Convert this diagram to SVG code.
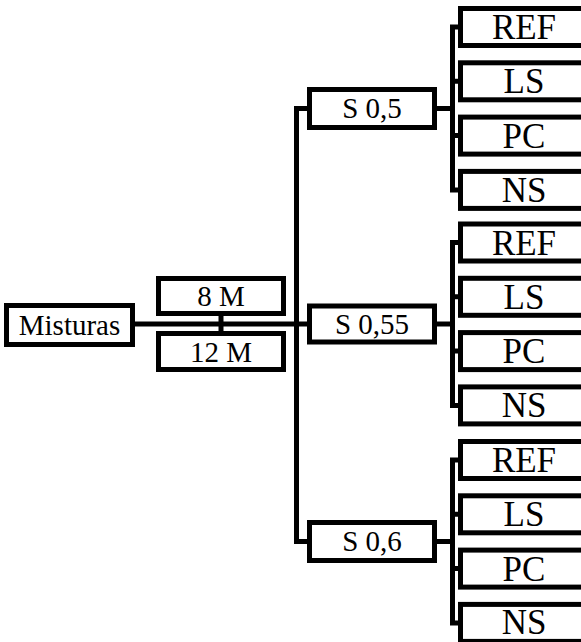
<svg xmlns="http://www.w3.org/2000/svg" width="581" height="642" viewBox="0 0 581 642">
  <style>
    .box { fill: #ffffff; stroke: #000000; stroke-width: 5; }
    .wire { fill: none; stroke: #000000; stroke-width: 5; stroke-linejoin: miter; }
    .lbl { font-family: "Liberation Serif", "Times New Roman", serif; font-size: 29px; text-anchor: middle; fill: #000000; }
    .leaf { font-family: "Liberation Serif", "Times New Roman", serif; font-size: 35px; text-anchor: middle; fill: #000000; }
  </style>
  <rect width="581" height="642" fill="#ffffff"/>

  <!-- connectors -->
  <g id="connectors" class="wire">
    <!-- root to main spine -->
    <path d="M135 324 H307"/>
    <path d="M221 316 V331"/>
    <!-- main spine to series -->
    <path d="M307 108.5 H296.5 V541.5 H307"/>
    <!-- series to their tests -->
    <path d="M437 108.5 H452.5"/>
    <path d="M458 27 H452.5 V189.9 H458 M452.5 81.3 H458 M452.5 135.6 H458"/>
    <path d="M437 324 H452.5"/>
    <path d="M458 242.5 H452.5 V405.4 H458 M452.5 296.8 H458 M452.5 351.1 H458"/>
    <path d="M437 541.5 H452.5"/>
    <path d="M458 460 H452.5 V622.9 H458 M452.5 514.3 H458 M452.5 568.6 H458"/>
  </g>

  <!-- root -->
  <g id="misturas">
    <rect class="box" x="6.5" y="305.5" width="126" height="39"/>
    <text class="lbl" x="69.5" y="335">Misturas</text>
  </g>
  <g id="m8">
    <rect class="box" x="158.5" y="278.5" width="125" height="35"/>
    <text class="lbl" x="221" y="306">8 M</text>
  </g>
  <g id="m12">
    <rect class="box" x="158.5" y="333.5" width="125" height="36"/>
    <text class="lbl" x="221" y="361.5">12 M</text>
  </g>

  <!-- series -->
  <g id="s05">
    <rect class="box" x="309.5" y="89.5" width="125" height="38"/>
    <text class="lbl" x="372" y="118">S 0,5</text>
  </g>
  <g id="s055">
    <rect class="box" x="309.5" y="306" width="125" height="36"/>
    <text class="lbl" x="372" y="334">S 0,55</text>
  </g>
  <g id="s06">
    <rect class="box" x="309.5" y="522.5" width="125" height="38"/>
    <text class="lbl" x="372" y="551">S 0,6</text>
  </g>

  <!-- tests, series 0,5 -->
  <g id="s05-ref">
    <rect class="box" x="460.5" y="8.5" width="200" height="37"/>
    <text class="leaf" x="524" y="39">REF</text>
  </g>
  <g id="s05-ls">
    <rect class="box" x="460.5" y="62.8" width="200" height="37"/>
    <text class="leaf" x="524" y="93.3">LS</text>
  </g>
  <g id="s05-pc">
    <rect class="box" x="460.5" y="117.1" width="200" height="37"/>
    <text class="leaf" x="524" y="147.6">PC</text>
  </g>
  <g id="s05-ns">
    <rect class="box" x="460.5" y="171.4" width="200" height="37"/>
    <text class="leaf" x="524" y="201.9">NS</text>
  </g>

  <!-- tests, series 0,55 -->
  <g id="s055-ref">
    <rect class="box" x="460.5" y="224" width="200" height="37"/>
    <text class="leaf" x="524" y="254.5">REF</text>
  </g>
  <g id="s055-ls">
    <rect class="box" x="460.5" y="278.3" width="200" height="37"/>
    <text class="leaf" x="524" y="308.8">LS</text>
  </g>
  <g id="s055-pc">
    <rect class="box" x="460.5" y="332.6" width="200" height="37"/>
    <text class="leaf" x="524" y="363.1">PC</text>
  </g>
  <g id="s055-ns">
    <rect class="box" x="460.5" y="386.9" width="200" height="37"/>
    <text class="leaf" x="524" y="417.4">NS</text>
  </g>

  <!-- tests, series 0,6 -->
  <g id="s06-ref">
    <rect class="box" x="460.5" y="441.5" width="200" height="37"/>
    <text class="leaf" x="524" y="472">REF</text>
  </g>
  <g id="s06-ls">
    <rect class="box" x="460.5" y="495.8" width="200" height="37"/>
    <text class="leaf" x="524" y="526.3">LS</text>
  </g>
  <g id="s06-pc">
    <rect class="box" x="460.5" y="550.1" width="200" height="37"/>
    <text class="leaf" x="524" y="580.6">PC</text>
  </g>
  <g id="s06-ns">
    <rect class="box" x="460.5" y="604.4" width="200" height="37"/>
    <text class="leaf" x="524" y="634">NS</text>
  </g>
</svg>
